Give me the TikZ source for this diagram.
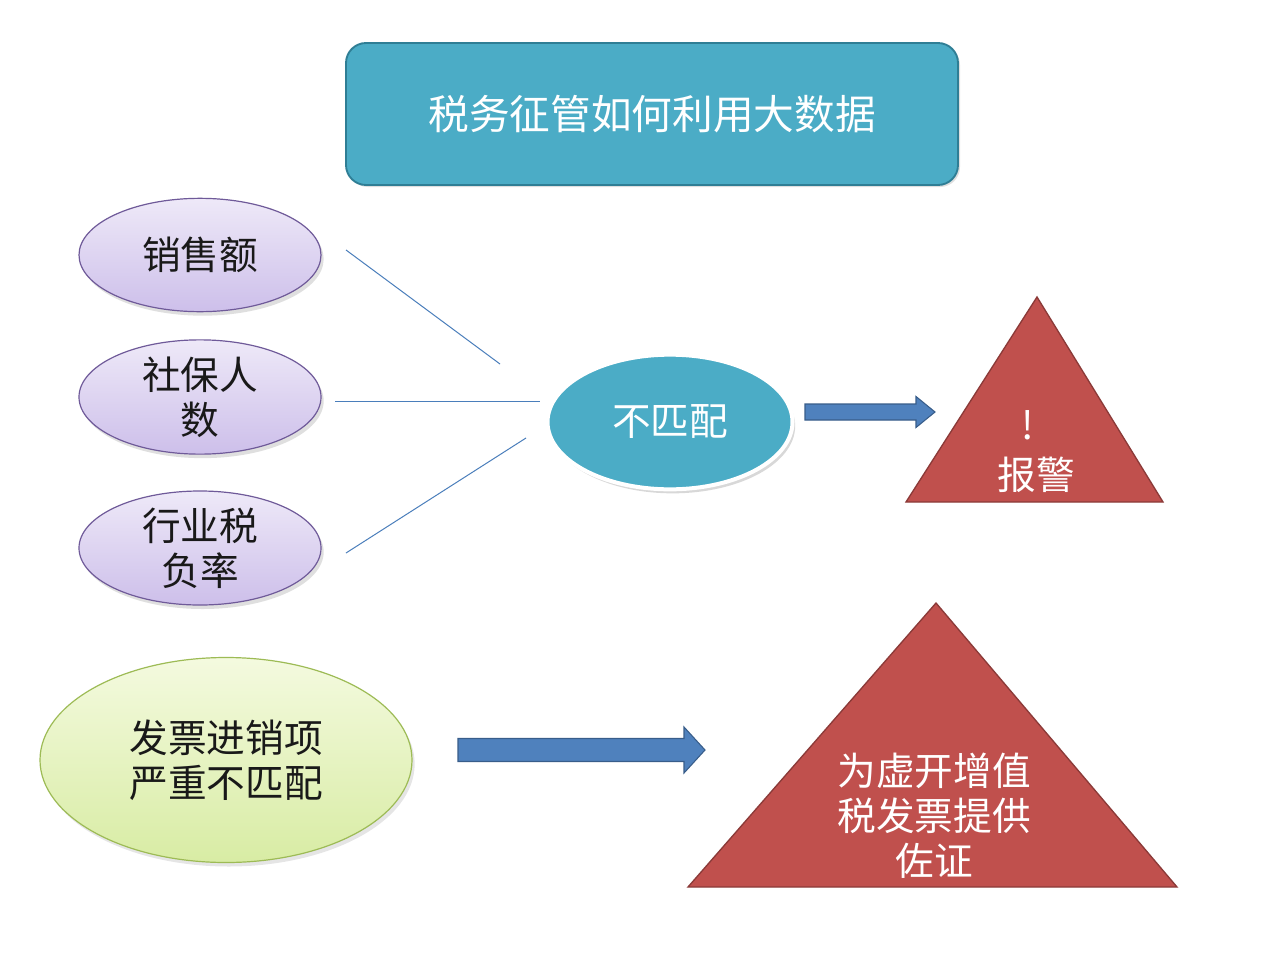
\documentclass[tikz,border=0pt]{standalone}
\usepackage{fontspec}
\setmainfont{Noto Sans CJK SC}
\usetikzlibrary{shapes.geometric,shadows,calc}
\definecolor{tealfill}{HTML}{4BACC6}
\definecolor{tealdraw}{HTML}{2F7E95}
\definecolor{purpdraw}{HTML}{6F5A99}
\definecolor{purptop}{HTML}{EEE9F8}
\definecolor{purpbot}{HTML}{CDBFEA}
\definecolor{greendraw}{HTML}{9DBB55}
\definecolor{greentop}{HTML}{F4FADF}
\definecolor{greenbot}{HTML}{D8ECA4}
\definecolor{linecol}{HTML}{4A7EBB}
\definecolor{arrowfill}{HTML}{4F81BD}
\definecolor{arrowdraw}{HTML}{385D8A}
\definecolor{redfill}{HTML}{C0504D}
\definecolor{reddraw}{HTML}{8B3A38}
\begin{document}
\begin{tikzpicture}[x=0.75pt,y=-0.75pt,
  bigtext/.style={font=\fontsize{29}{33.75}\selectfont, align=center},
  titlebox/.style={rectangle, rounded corners=15pt, fill=tealfill, draw=tealdraw, line width=1.4pt,
    minimum width=459pt, minimum height=106.5pt, text=white,
    font=\fontsize{30.5}{36}\selectfont,
    drop shadow={shadow xshift=1.5pt, shadow yshift=-1.5pt, opacity=0.25}},
  purpell/.style={ellipse, inner sep=0pt, minimum width=181.5pt, minimum height=85pt,
    draw=purpdraw, line width=0.9pt, top color=purptop, bottom color=purpbot,
    text=black!90, bigtext,
    drop shadow={shadow xshift=2pt, shadow yshift=-3pt, opacity=0.25}},
  tealell/.style={ellipse, inner sep=0pt, minimum width=183.75pt, minimum height=101pt,
    fill=tealfill, draw=white, line width=3pt, text=white, bigtext,
    drop shadow={shadow xshift=2pt, shadow yshift=-3pt, opacity=0.3}},
  greenell/.style={ellipse, inner sep=0pt, minimum width=279pt, minimum height=153.75pt,
    draw=greendraw, line width=0.9pt, top color=greentop, bottom color=greenbot,
    text=black!90, bigtext,
    drop shadow={shadow xshift=2pt, shadow yshift=-3pt, opacity=0.2}},
  thinline/.style={draw=linecol, line width=0.75pt},
  blockarrow/.style={fill=arrowfill, draw=arrowdraw, line width=0.8pt},
  warntri/.style={fill=redfill, draw=reddraw, line width=1pt},
  whitetext/.style={text=white, bigtext}
]
\useasboundingbox (0,0) rectangle (1274,960);
\fill[white] (0,0) rectangle (1274,960);

% title
\node[titlebox] (title) at (652,114) {\raisebox{-2pt}{税务征管如何利用大数据}};

% left ellipses
\node[purpell] (sales) at (200,255) {销售额};
\node[purpell] (social) at (200,397) {社保人\\数};
\node[purpell] (taxrate) at (200,548) {行业税\\负率};

% mismatch ellipse
\node[tealell] (mismatch) at (670,422) {不匹配};

% connector lines
\coordinate (l1a) at (346,250); \coordinate (l1b) at (500,364);
\coordinate (l2a) at (335,401); \coordinate (l2b) at (540,401);
\coordinate (l3a) at (346,553); \coordinate (l3b) at (526,438);
\draw[thinline] (l1a) -- (l1b);
\draw[thinline] (l2a) -- (l2b);
\draw[thinline] (l3a) -- (l3b);

% arrow 1
\coordinate (a1s) at (805,412);
\coordinate (a1e) at (935,412);
\draw[blockarrow] ($(a1s)+(0,-8)$) -- ($(a1e)+(-19,-8)$) -- ($(a1e)+(-19,-15.5)$) -- (a1e)
  -- ($(a1e)+(-19,15.5)$) -- ($(a1e)+(-19,8)$) -- ($(a1s)+(0,8)$) -- cycle;

% triangle 1
\coordinate (t1a) at (1037,297);
\coordinate (t1l) at (906,502);
\coordinate (t1r) at (1163,502);
\draw[warntri] (t1a) -- (t1r) -- (t1l) -- cycle;
\node[whitetext] (excl) at (1028,425) {!};
\node[whitetext] (alarm) at (1036,475) {报警};

% green ellipse
\node[greenell] (invoice) at (226,760) {发票进销项\\严重不匹配};

% arrow 2
\coordinate (a2s) at (458,750);
\coordinate (a2e) at (705,750);
\draw[blockarrow] ($(a2s)+(0,-11.5)$) -- ($(a2e)+(-21,-11.5)$) -- ($(a2e)+(-21,-23)$) -- (a2e)
  -- ($(a2e)+(-21,23)$) -- ($(a2e)+(-21,11.5)$) -- ($(a2s)+(0,11.5)$) -- cycle;

% triangle 2
\coordinate (t2a) at (936,603);
\coordinate (t2l) at (688,887);
\coordinate (t2r) at (1177,887);
\draw[warntri] (t2a) -- (t2r) -- (t2l) -- cycle;
\node[whitetext] (evidence) at (934,816) {为虚开增值\\税发票提供\\佐证};
\end{tikzpicture}
\end{document}
